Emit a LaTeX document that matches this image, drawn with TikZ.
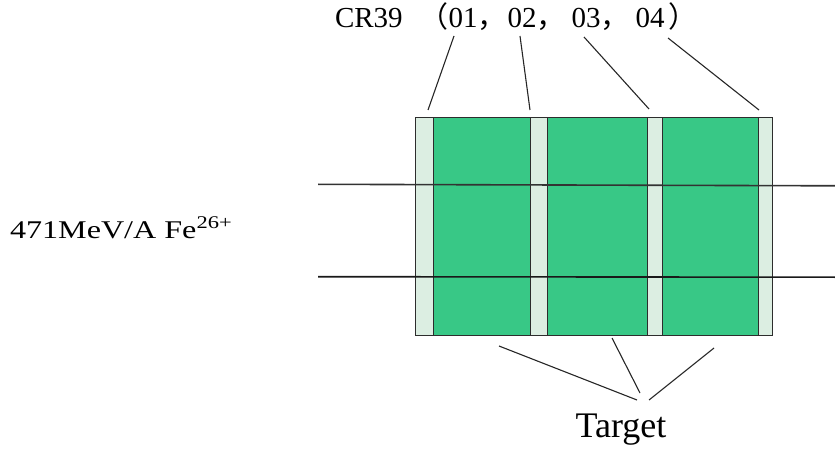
\documentclass[tikz,border=0pt]{standalone}
\usepackage{fontspec}
\setmainfont{Liberation Serif}
\newfontfamily\cjk{Noto Sans CJK SC}
\usepackage{graphicx}
\definecolor{tgreen}{RGB}{56,200,134}
\definecolor{tlight}{RGB}{220,238,226}
\definecolor{edge}{RGB}{45,45,45}
\tikzset{
  layer/.style={draw=edge, line width=0.9pt, inner sep=0pt, outer sep=0pt, minimum height=217.3pt, anchor=north west},
  cr/.style={layer, fill=tlight},
  tg/.style={layer, fill=tgreen},
  beam/.style={line width=1.6pt},
  leader/.style={line width=1.1pt, draw=black!85},
  lbl/.style={inner sep=0pt, outer sep=0pt}
}
\begin{document}
\begin{tikzpicture}[x=1pt,y=-1pt]
\useasboundingbox (0,0) rectangle (835,449);
% layers
\node[cr, minimum width=17.6pt] (s1) at (415.7,117.7) {};
\node[tg, minimum width=96.7pt] (g1) at (433.3,117.7) {};
\node[cr, minimum width=17.7pt] (s2) at (530,117.7) {};
\node[tg, minimum width=99.6pt] (g2) at (547.7,117.7) {};
\node[cr, minimum width=15pt] (s3) at (647.3,117.7) {};
\node[tg, minimum width=96pt] (g3) at (662.3,117.7) {};
\node[cr, minimum width=14.4pt] (s4) at (758.3,117.7) {};
% beams
\coordinate (b1s) at (318,184.3);
\coordinate (b1e) at (835,185.8);
\coordinate (b2s) at (318,276.7);
\coordinate (b2e) at (835,277.2);
\draw[beam, draw=black!80] (b1s) -- (b1e);
\draw[beam, draw=black!90] (b2s) -- (b2e);
% labels
\node[lbl, anchor=base west, font=\fontsize{29}{32}\selectfont] (crl) at (335,28)
  {CR39\hspace{17pt}{\cjk （}01{\cjk ，}\hspace{1pt}02{\cjk ，}\hspace{6pt}03{\cjk ，}\hspace{6pt}04\hspace{4pt}{\cjk ）}};
\node[lbl, anchor=base west, font=\fontsize{25.5}{28}\selectfont] (ion) at (10,238)
  {\scalebox{1.26}[1]{471MeV/A Fe\textsuperscript{26+}}};
\node[lbl, anchor=base, font=\fontsize{36}{40}\selectfont] (tgt) at (621,437) {Target};
% CR39 leaders
\coordinate (c1) at (454,36);
\coordinate (c2) at (520,36);
\coordinate (c3) at (584,37);
\coordinate (c4) at (668,38);
\coordinate (e1) at (428,110);
\coordinate (e2) at (530,110);
\coordinate (e3) at (649,109);
\coordinate (e4) at (759,110);
\draw[leader] (c1) -- (e1);
\draw[leader] (c2) -- (e2);
\draw[leader] (c3) -- (e3);
\draw[leader] (c4) -- (e4);
% Target leaders
\coordinate (t1) at (499,346);
\coordinate (t2) at (612,338);
\coordinate (t3) at (714,348);
\coordinate (u1) at (637,400);
\coordinate (u2) at (640,393);
\coordinate (u3) at (649,400);
\draw[leader] (t1) -- (u1);
\draw[leader] (t2) -- (u2);
\draw[leader] (t3) -- (u3);
\end{tikzpicture}
\end{document}
